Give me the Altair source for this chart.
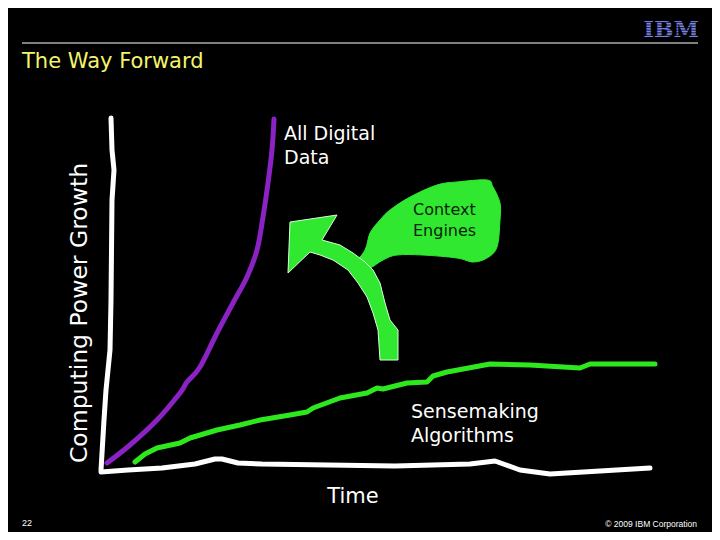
import altair as alt
import pandas as pd

# ---- data (slide coordinates: x to the right, y downward) ----
purple_x = [107, 130, 157, 180, 187, 200, 217, 233, 247, 257, 263, 268, 272, 274]
purple_y = [463, 445, 420, 393, 382, 367, 333, 303, 277, 250, 217, 183, 150, 119]

green_x = [135, 145, 157, 180, 190, 217, 240, 260, 290, 307, 313, 340, 367, 377, 383,
           407, 427, 433, 447, 490, 530, 580, 590, 620, 655]
green_y = [462, 454, 448, 443, 438, 430, 425, 420, 415, 412, 408, 398, 393, 388, 389,
           383, 382, 376, 372, 364, 365, 368, 364, 364, 364]

yaxis_x = [111, 112, 114, 112, 111, 110, 106, 104, 101]
yaxis_y = [118, 150, 170, 200, 300, 350, 390, 420, 470]

xaxis_x = [101, 128, 162, 195, 215, 222, 238, 262, 395, 470, 495, 520, 550, 600, 650]
xaxis_y = [472, 470, 468, 464, 459, 459, 463, 464, 466, 464, 461, 470, 474, 471, 468]

bubble_x = [352, 365, 370, 380, 390, 410, 437, 457, 487, 493, 500, 500, 497, 487, 473,
            457, 423, 397, 383, 370, 360]
bubble_y = [268, 250, 233, 220, 210, 197, 185, 182, 180, 187, 203, 220, 247, 258, 262,
            258, 255, 255, 260, 268, 268]

arrow_x = [380, 378, 373, 367, 358, 348, 333, 320, 310, 288, 290, 337, 322, 340, 353,
           365, 373, 380, 385, 390, 398, 398]
arrow_y = [360, 330, 313, 297, 283, 270, 260, 255, 252, 273, 222, 215, 240, 245, 253,
           262, 270, 283, 303, 320, 330, 360]

title_text = "The Way Forward"
y_label = "Computing Power Growth"
x_label = "Time"
big_labels = ["All Digital", "Data", "Sensemaking", "Algorithms"]
big_label_x = [284, 284, 411, 411]
big_label_y = [140, 164, 418, 442]
bubble_labels = ["Context", "Engines"]
bubble_label_x = [413, 413]
bubble_label_y = [215, 236]
page_number = "22"
copyright_text = "© 2009 IBM Corporation"
logo_text = "IBM"

# ---- helpers ----
# the page keeps an 8px margin on every side, so the drawing spans slide x 8..712, y 8..532
W, H = 704, 524
XS = alt.Scale(domain=[8, 712], nice=False, zero=False)
YS = alt.Scale(domain=[8, 532], nice=False, zero=False, reverse=True)


def path_df(xs, ys, close=False):
    xs, ys = list(xs), list(ys)
    if close:
        xs, ys = xs + xs[:1], ys + ys[:1]
    return pd.DataFrame({"x": xs, "y": ys, "i": range(len(xs))})


def xy(ch, order=True):
    e = dict(x=alt.X("x:Q", scale=XS, axis=None), y=alt.Y("y:Q", scale=YS, axis=None))
    if order:
        e["order"] = alt.Order("i:Q")
    return ch.encode(**e)


FONT = "DejaVu Sans"
GREEN = "#30e830"

layers = []

# header rule
layers.append(xy(alt.Chart(path_df([22, 698], [43, 43])).mark_line(
    stroke="white", strokeWidth=1)))

# IBM logo with stripes
layers.append(xy(alt.Chart(pd.DataFrame({"x": [699], "y": [37], "t": [logo_text]})).mark_text(
    font="DejaVu Serif", fontWeight="bold", fontSize=23, color="#7a84ea",
    align="right", baseline="alphabetic"), order=False).encode(text="t:N"))
stripe_y = [19.8, 22.4, 25.0, 27.6, 30.2, 32.8, 35.4]
stripes = pd.DataFrame({"y": stripe_y, "x": [640] * len(stripe_y), "x2": [705] * len(stripe_y)})
layers.append(alt.Chart(stripes).mark_rule(color="black", strokeWidth=0.8).encode(
    x=alt.X("x:Q", scale=XS, axis=None), x2="x2:Q",
    y=alt.Y("y:Q", scale=YS, axis=None)))

# hand-drawn axes
for xs, ys in [(yaxis_x, yaxis_y), (xaxis_x, xaxis_y)]:
    layers.append(xy(alt.Chart(path_df(xs, ys)).mark_line(
        stroke="white", strokeWidth=5, strokeCap="round", strokeJoin="round")))

# curves
layers.append(xy(alt.Chart(path_df(purple_x, purple_y)).mark_line(
    stroke="#8a22c4", strokeWidth=5, strokeCap="round", strokeJoin="round",
    interpolate="cardinal")))
layers.append(xy(alt.Chart(path_df(green_x, green_y)).mark_line(
    stroke="#2ee81e", strokeWidth=5, strokeCap="round", strokeJoin="round")))

# speech bubble and arrow
layers.append(xy(alt.Chart(path_df(bubble_x, bubble_y)).mark_line(
    fill=GREEN, stroke=GREEN, strokeWidth=1, interpolate="cardinal-closed")))
layers.append(xy(alt.Chart(path_df(arrow_x, arrow_y, close=True)).mark_line(
    fill=GREEN, stroke="#d8ffd8", strokeWidth=1, interpolate="linear-closed")))

# texts
layers.append(xy(alt.Chart(pd.DataFrame({"x": [22], "y": [68], "t": [title_text]})).mark_text(
    font=FONT, fontSize=21, color="#f4f46c", align="left", baseline="alphabetic"),
    order=False).encode(text="t:N"))
layers.append(xy(alt.Chart(pd.DataFrame({"x": [87], "y": [313], "t": [y_label]})).mark_text(
    font=FONT, fontSize=23.5, color="white", angle=270, align="center",
    baseline="alphabetic"), order=False).encode(text="t:N"))
layers.append(xy(alt.Chart(pd.DataFrame({"x": [353], "y": [503], "t": [x_label]})).mark_text(
    font=FONT, fontSize=21, color="white", align="center", baseline="alphabetic"),
    order=False).encode(text="t:N"))
layers.append(xy(alt.Chart(pd.DataFrame({"x": big_label_x, "y": big_label_y, "t": big_labels})).mark_text(
    font=FONT, fontSize=19, color="white", align="left", baseline="alphabetic"),
    order=False).encode(text="t:N"))
layers.append(xy(alt.Chart(pd.DataFrame({"x": bubble_label_x, "y": bubble_label_y, "t": bubble_labels})).mark_text(
    font=FONT, fontSize=16, color="#0a1e0a", align="left", baseline="alphabetic"),
    order=False).encode(text="t:N"))
layers.append(xy(alt.Chart(pd.DataFrame({"x": [22], "y": [526], "t": [page_number]})).mark_text(
    font="Liberation Sans", fontSize=9, color="white", align="left", baseline="alphabetic"),
    order=False).encode(text="t:N"))
layers.append(xy(alt.Chart(pd.DataFrame({"x": [697], "y": [527], "t": [copyright_text]})).mark_text(
    font="Liberation Sans", fontSize=8.5, color="white", align="right", baseline="alphabetic"),
    order=False).encode(text="t:N"))

chart = alt.layer(*layers).properties(
    width=W, height=H, background="black", padding=0,
    autosize=alt.AutoSizeParams(type="none"),
).configure_view(stroke=None)

chart.save("out.html", embed_options={"renderer": "svg", "actions": False})
